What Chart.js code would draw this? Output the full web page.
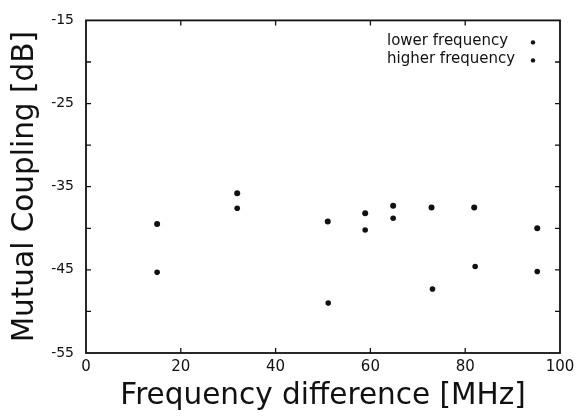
<!DOCTYPE html>
<html>
<head>
<meta charset="utf-8">
<script src="https://cdn.jsdelivr.net/npm/chart.js@4"></script>
<style>
  html, body { margin: 0; padding: 0; background: #fff; }
  #wrap { width: 584px; height: 417px; }
</style>
</head>
<body>
<div id="wrap"><canvas id="couplingChart" width="584" height="417"></canvas></div>
<script>
// values
const lowerX = [15.0, 31.9, 51.0, 58.9, 64.8, 72.9, 81.9, 95.2];
const lowerY = [-39.5, -35.8, -39.2, -38.2, -37.3, -37.5, -37.5, -40.0];
const higherX = [15.0, 31.9, 51.1, 58.9, 64.8, 73.1, 82.1, 95.2];
const higherY = [-45.3, -37.6, -49.0, -40.2, -38.8, -47.3, -44.6, -45.2];

const xMin = 0, xMax = 100, xStep = 20;
const yMin = -55, yMax = -15, yStep = 5;
const yLabelled = [-55, -45, -35, -25, -15];

const fontFamily = '"DejaVu Sans", sans-serif';

function toPoints(xs, ys) {
  return xs.map((x, i) => ({ x: x, y: ys[i] }));
}

// frame + inward ticks on all four sides, like the original plot
const frameTicks = {
  id: 'frameTicks',
  afterDraw(chart) {
    const ctx = chart.ctx;
    const { left, right, top, bottom } = chart.chartArea;
    const xs = chart.scales.x, ys = chart.scales.y;
    ctx.save();
    ctx.strokeStyle = '#111';
    ctx.lineWidth = 1.8;
    ctx.strokeRect(left, top, right - left, bottom - top);
    ctx.lineWidth = 1.3;
    ctx.beginPath();
    xs.ticks.forEach(t => {
      if (t.value <= xMin || t.value >= xMax) return;
      const px = xs.getPixelForValue(t.value);
      ctx.moveTo(px, bottom); ctx.lineTo(px, bottom - 5);
      ctx.moveTo(px, top); ctx.lineTo(px, top + 5);
    });
    ys.ticks.forEach(t => {
      if (t.value <= yMin || t.value >= yMax) return;
      const py = ys.getPixelForValue(t.value);
      ctx.moveTo(left, py); ctx.lineTo(left + 5, py);
      ctx.moveTo(right, py); ctx.lineTo(right - 5, py);
    });
    ctx.stroke();
    ctx.restore();
  }
};

// legend with text first and marker on the right, inside the plot
const insideLegend = {
  id: 'insideLegend',
  afterDraw(chart) {
    const ctx = chart.ctx;
    const { right, top } = chart.chartArea;
    ctx.save();
    ctx.font = '15px ' + fontFamily;
    ctx.fillStyle = '#111';
    ctx.textBaseline = 'middle';
    ctx.textAlign = 'left';
    chart.data.datasets.forEach((ds, i) => {
      const y = top + 21 + i * 18;
      ctx.fillText(ds.label, right - 173, y);
      ctx.beginPath();
      ctx.arc(right - 27, y + 1, 2.2, 0, Math.PI * 2);
      ctx.fill();
    });
    ctx.restore();
  }
};

new Chart(document.getElementById('couplingChart'), {
  type: 'scatter',
  data: {
    datasets: [
      { label: 'lower frequency', data: toPoints(lowerX, lowerY),
        backgroundColor: '#111', borderColor: '#111', pointRadius: 3, borderWidth: 0 },
      { label: 'higher frequency', data: toPoints(higherX, higherY),
        backgroundColor: '#111', borderColor: '#111', pointRadius: 2.8, borderWidth: 0 }
    ]
  },
  options: {
    responsive: false,
    animation: false,
    layout: { padding: { top: 16, right: 24, left: 0, bottom: 0 } },
    plugins: {
      legend: { display: false },
      tooltip: { enabled: false }
    },
    scales: {
      x: {
        type: 'linear',
        min: xMin, max: xMax,
        grid: { display: false, drawTicks: false },
        border: { display: false },
        ticks: { stepSize: xStep, padding: 5, color: '#111', font: { family: fontFamily, size: 15 } },
        title: { display: true, text: 'Frequency difference [MHz]', color: '#111',
                 font: { family: fontFamily, size: 29.5 }, padding: 3 },
        afterFit(scale) { scale.height = 64; }
      },
      y: {
        type: 'linear',
        min: yMin, max: yMax,
        grid: { display: false, drawTicks: false },
        border: { display: false },
        ticks: {
          stepSize: yStep, padding: 12, color: '#111', autoSkip: false,
          font: { family: fontFamily, size: 14 },
          callback: v => yLabelled.includes(v) ? String(v) : ''
        },
        title: { display: true, text: 'Mutual Coupling [dB]', color: '#111',
                 font: { family: fontFamily, size: 29.5 }, padding: 8 },
        afterFit(scale) { scale.width = 86; }
      }
    }
  },
  plugins: [frameTicks, insideLegend]
});
</script>
</body>
</html>
